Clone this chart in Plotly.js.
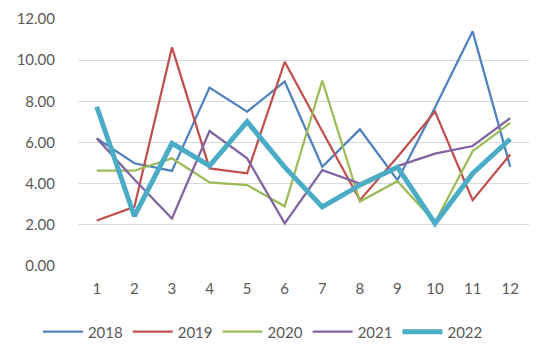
<!DOCTYPE html>
<html>
<head>
<meta charset="utf-8">
<script src="https://cdn.plot.ly/plotly-3.0.1.min.js"></script>
<style>html,body{margin:0;padding:0;background:#fff;}#chart{width:550px;height:361px;}</style>
</head>
<body>
<div id="chart"></div>
<script>
var months = ['1','2','3','4','5','6','7','8','9','10','11','12'];
var s2018 = [6.20, 4.99, 4.62, 8.67, 7.50, 8.96, 4.82, 6.64, 4.17, 7.70, 11.40, 4.82];
var s2019 = [2.21, 2.87, 10.62, 4.74, 4.50, 9.92, 6.55, 3.20, 5.30, 7.50, 3.20, 5.42];
var s2020 = [4.63, 4.63, 5.23, 4.06, 3.93, 2.90, 9.01, 3.13, 4.12, 2.12, 5.58, 6.95];
var s2021 = [6.20, 4.20, 2.31, 6.56, 5.23, 2.07, 4.66, 4.01, 4.85, 5.46, 5.83, 7.18];
var s2022 = [7.74, 2.42, 5.96, 4.87, 7.01, 4.80, 2.87, 3.93, 4.80, 2.07, 4.50, 6.17];
var seriesNames = ['2018','2019','2020','2021','2022'];
var seriesData = [s2018, s2019, s2020, s2021, s2022];
var colors = ['#4F81BD','#C0504D','#9BBB59','#8064A2','#4BACC6'];
var widths = [2.25, 2.25, 2.25, 2.25, 5];

var traces = seriesNames.map(function(n, i){
  return {x: months, y: seriesData[i], name: n, type: 'scatter', mode: 'lines',
          line: {color: colors[i], width: widths[i]}};
});

var layout = {
  width: 550, height: 361,
  margin: {l: 78, r: 21, t: 19, b: 95},
  paper_bgcolor: '#fff', plot_bgcolor: '#fff',
  font: {family: 'Lato, "Open Sans", sans-serif', size: 15, color: '#595959'},
  showlegend: true,
  legend: {orientation: 'h', x: 0.41, xanchor: 'center', y: -0.2, yanchor: 'top',
           font: {size: 15, color: '#595959'}, itemwidth: 40,
           traceorder: 'normal'},
  xaxis: {type: 'category', range: [-0.5, 11.5], showgrid: false, zeroline: false,
          showline: false, ticks: '', ticklabelstandoff: 12, fixedrange: true},
  yaxis: {range: [0, 12], dtick: 2, tickformat: '.2f', showgrid: true,
          gridcolor: '#D9D9D9', gridwidth: 1, zeroline: false, showline: false,
          ticks: '', ticklabelstandoff: 22, fixedrange: true}
};
Plotly.newPlot('chart', traces, layout, {displayModeBar: false, staticPlot: true});
</script>
</body>
</html>
